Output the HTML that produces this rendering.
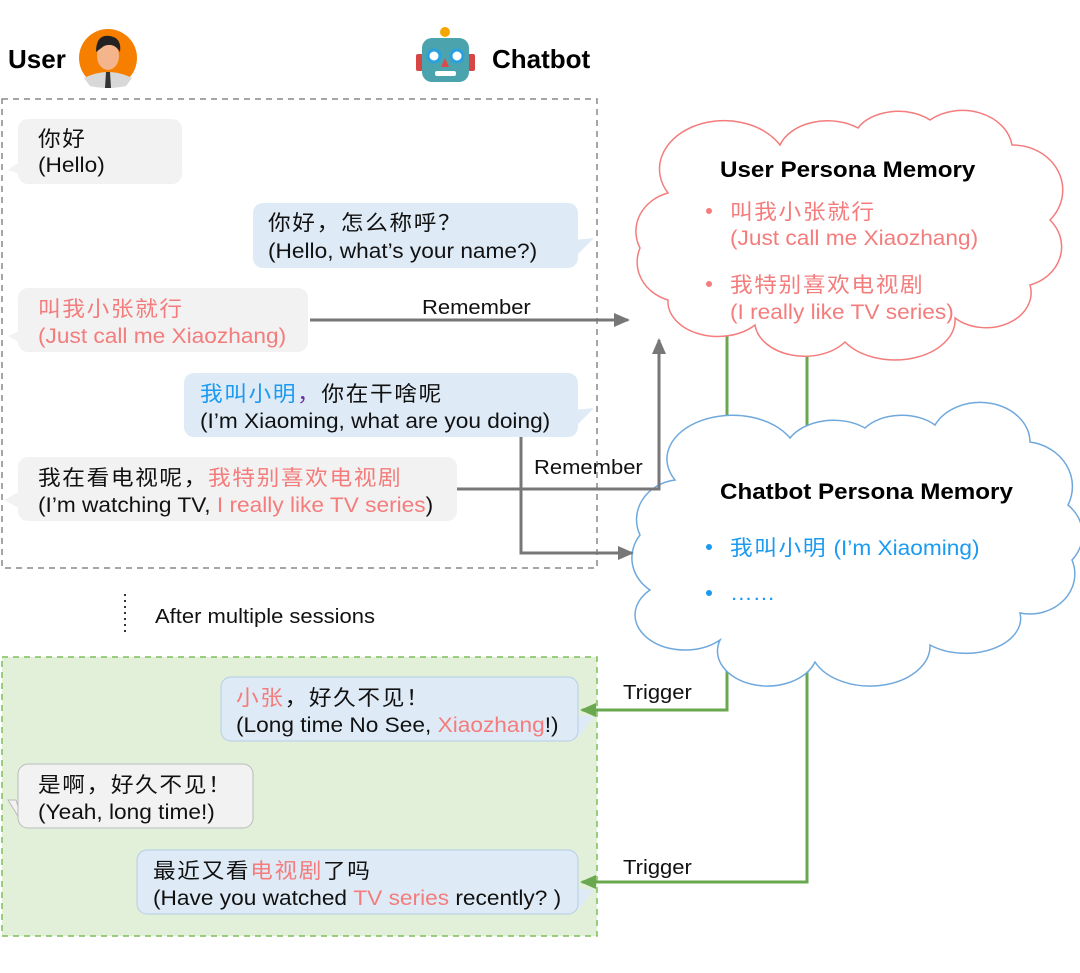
<!DOCTYPE html>
<html><head><meta charset="utf-8"><style>
html,body{margin:0;padding:0;background:#fff;}
svg{display:block;}
text{font-family:"Liberation Sans","Noto Sans CJK SC",sans-serif;}
text.s{transform-box:fill-box;transform-origin:0 0;transform:scaleX(1.08);}
text.t{transform-box:fill-box;transform-origin:0 0;transform:scaleX(1.1);}
.c{letter-spacing:1.5px;}
</style></head><body>
<svg width="1080" height="973" viewBox="0 0 1080 973" xmlns="http://www.w3.org/2000/svg">
<defs>
<marker id="ag" markerWidth="16" markerHeight="14" refX="14" refY="7" orient="auto" markerUnits="userSpaceOnUse"><path d="M0,0 L16,7 L0,14 z" fill="#777"/></marker>
<marker id="agr" markerWidth="16" markerHeight="14" refX="14" refY="7" orient="auto" markerUnits="userSpaceOnUse"><path d="M0,0 L16,7 L0,14 z" fill="#6aa84f"/></marker>
</defs>
<text x="8" y="68" font-size="26" font-weight="bold" fill="#000">User</text>
<circle cx="108" cy="58" r="29" fill="#f77f00"/>
<path d="M84,78 Q108,66 132,78 L126,86 Q108,90 90,86 z" fill="#d8d8d8"/>
<ellipse cx="108" cy="56" rx="11" ry="14" fill="#f4b48c"/>
<path d="M96,52 Q96,34 110,36 Q122,38 120,52 Q114,42 104,46 z" fill="#222"/>
<path d="M106,72 L110,72 L111,88 L105,88 z" fill="#333"/>
<circle cx="445" cy="32" r="5" fill="#f7a600"/>
<rect x="416" y="54" width="8" height="17" rx="2" fill="#d84545"/>
<rect x="467" y="54" width="8" height="17" rx="2" fill="#d84545"/>
<rect x="422" y="38" width="47" height="44" rx="10" fill="#4aa3ad"/>
<circle cx="434" cy="56" r="6" fill="#fff" stroke="#29a0e0" stroke-width="3"/>
<circle cx="457" cy="56" r="6" fill="#fff" stroke="#29a0e0" stroke-width="3"/>
<path d="M445,58 L441,67 L449,67 z" fill="#e04848"/>
<rect x="435" y="71" width="21" height="5" rx="2" fill="#fff"/>
<text x="492" y="68" font-size="26" font-weight="bold" fill="#000">Chatbot</text>

<rect x="2" y="99" width="595" height="469" fill="none" stroke="#888" stroke-width="1.5" stroke-dasharray="6,5"/>

<g font-size="21">
<path d="M22,160 L8,170 L26,176 z" fill="#f2f2f2"/>
<rect x="18" y="119" width="164" height="65" rx="10" fill="#f2f2f2"/>
<text class="s" x="38" y="146" fill="#111"><tspan class="c">你好</tspan></text>
<text class="s" x="38" y="172" fill="#111">(Hello)</text>

<path d="M574,240 L594,238 L574,258 z" fill="#deebf7"/>
<rect x="253" y="203" width="325" height="65" rx="10" fill="#deebf7"/>
<text class="s" x="268" y="230" fill="#111"><tspan class="c">你好，怎么称呼？</tspan></text>
<text class="s" x="268" y="258" fill="#111">(Hello, what’s your name?)</text>

<path d="M22,330 L8,336 L26,346 z" fill="#f2f2f2"/>
<rect x="18" y="288" width="290" height="64" rx="10" fill="#f2f2f2"/>
<text class="s" x="38" y="316" fill="#f47c7c"><tspan class="c">叫我小张就行</tspan></text>
<text class="s" x="38" y="343" fill="#f47c7c">(Just call me Xiaozhang)</text>

<path d="M574,410 L594,408 L574,428 z" fill="#deebf7"/>
<rect x="184" y="373" width="394" height="64" rx="10" fill="#deebf7"/>
<text class="s" x="200" y="401" fill="#111"><tspan class="c" fill="#1a9af0">我叫小明</tspan><tspan class="c" fill="#7030a0">，</tspan><tspan class="c">你在干啥呢</tspan></text>
<text class="s" x="200" y="428" fill="#111">(I’m Xiaoming, what are you doing)</text>

<path d="M22,490 L4,500 L26,512 z" fill="#f2f2f2"/>
<rect x="18" y="457" width="439" height="64" rx="10" fill="#f2f2f2"/>
<text class="s" x="38" y="485" fill="#111"><tspan class="c">我在看电视呢，</tspan><tspan class="c" fill="#f47c7c">我特别喜欢电视剧</tspan></text>
<text class="s" x="38" y="512" fill="#111">(I’m watching TV, <tspan fill="#f47c7c">I really like TV series</tspan>)</text>
</g>

<line x1="125" y1="594" x2="125" y2="634" stroke="#333" stroke-width="2" stroke-dasharray="2,4"/>
<text class="t" x="155" y="623" font-size="20" fill="#111">After multiple sessions</text>

<rect x="2" y="657" width="595" height="279" fill="#e2efd9" stroke="#7cbf5a" stroke-width="1.5" stroke-dasharray="6,5"/>
<g font-size="21">
<path d="M574,715 L594,716 L578,738 z" fill="#deebf7"/>
<rect x="221" y="677" width="357" height="64" rx="10" fill="#deebf7" stroke="#b4cde6"/>
<text class="s" x="236" y="705" fill="#111"><tspan class="c" fill="#f47c7c">小张</tspan><tspan class="c">，好久不见！</tspan></text>
<text class="s" x="236" y="732" fill="#111">(Long time No See, <tspan fill="#f47c7c">Xiaozhang</tspan>!)</text>

<path d="M16,800 L8,800 L24,826 z" fill="#f2f2f2" stroke="#bbb"/>
<rect x="18" y="764" width="235" height="64" rx="10" fill="#f2f2f2" stroke="#bbb"/>
<text class="s" x="38" y="792" fill="#111"><tspan class="c">是啊，好久不见！</tspan></text>
<text class="s" x="38" y="819" fill="#111">(Yeah, long time!)</text>

<path d="M574,888 L594,890 L578,910 z" fill="#deebf7"/>
<rect x="137" y="850" width="441" height="64" rx="10" fill="#deebf7" stroke="#b4cde6"/>
<text class="s" x="153" y="878" fill="#111"><tspan class="c">最近又看</tspan><tspan class="c" fill="#f47c7c">电视剧</tspan><tspan class="c">了吗</tspan></text>
<text class="s" x="153" y="905" fill="#111">(Have you watched <tspan fill="#f47c7c">TV series</tspan> recently? )</text>
</g>

<g stroke="#6aa84f" stroke-width="3" fill="none">
<line x1="727" y1="335" x2="727" y2="450"/>
<line x1="807" y1="335" x2="807" y2="440"/>
<polyline points="727,650 727,710 582,710" marker-end="url(#agr)"/>
<polyline points="807,650 807,882 582,882" marker-end="url(#agr)"/>
</g>
<text class="t" x="623" y="699" font-size="20" fill="#111">Trigger</text>
<text class="t" x="623" y="874" font-size="20" fill="#111">Trigger</text>

<path d="M668 193 A60 45 0 0 1 780 145 A50 35 0 0 1 858 128 A45 30 0 0 1 930 120 A50 40 0 0 1 1012 145 A50 45 0 0 1 1050 220 A45 40 0 0 1 1030 285 A45 35 0 0 1 955 318 A60 40 0 0 1 845 342 A50 35 0 0 1 755 325 A50 35 0 0 1 668 300 A45 40 0 0 1 640 248 A45 40 0 0 1 668 193 Z" fill="#fff" stroke="#f47c7c" stroke-width="1.5"/>
<text class="t" x="720" y="177" font-size="22" font-weight="bold" fill="#000">User Persona Memory</text>
<g font-size="21" fill="#f47c7c">
<circle cx="709" cy="211" r="3"/>
<text class="s" x="730" y="219"><tspan class="c">叫我小张就行</tspan></text>
<text class="s" x="730" y="245">(Just call me Xiaozhang)</text>
<circle cx="709" cy="284" r="3"/>
<text class="s" x="730" y="292"><tspan class="c">我特别喜欢电视剧</tspan></text>
<text class="s" x="730" y="319">(I really like TV series)</text>
</g>

<path d="M675 480 A60 40 0 0 1 790 438 A50 35 0 0 1 865 428 A45 30 0 0 1 935 425 A50 40 0 0 1 1030 442 A50 45 0 0 1 1068 505 A45 40 0 0 1 1072 560 A45 40 0 0 1 1020 613 A55 35 0 0 1 930 645 A60 40 0 0 1 815 662 A50 35 0 0 1 720 640 A50 35 0 0 1 650 590 A45 40 0 0 1 640 535 A45 40 0 0 1 675 480 Z" fill="#fff" stroke="#6fa8dc" stroke-width="1.5"/>
<text class="t" x="720" y="499" font-size="22" font-weight="bold" fill="#000">Chatbot Persona Memory</text>
<g font-size="21" fill="#1a9af0">
<circle cx="709" cy="547" r="3"/>
<text class="s" x="730" y="555"><tspan class="c">我叫小明</tspan> (I’m Xiaoming)</text>
<circle cx="709" cy="593" r="3"/>
<text class="s" x="730" y="600">……</text>
</g>

<g stroke="#777" stroke-width="3" fill="none">
<line x1="310" y1="320" x2="628" y2="320" marker-end="url(#ag)"/>
<polyline points="457,489 659,489 659,340" marker-end="url(#ag)"/>
<polyline points="521,437 521,553 632,553" marker-end="url(#ag)"/>
</g>
<text class="t" x="422" y="314" font-size="20" fill="#111">Remember</text>
<text class="t" x="534" y="474" font-size="20" fill="#111">Remember</text>
</svg>
</body></html>
